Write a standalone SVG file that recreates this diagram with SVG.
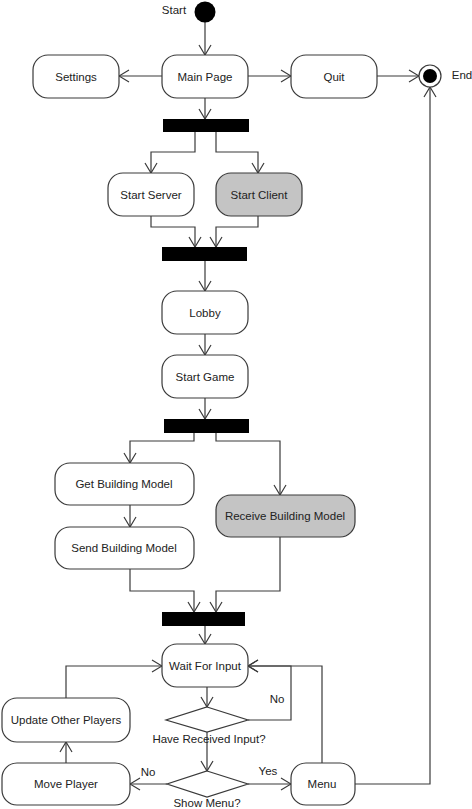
<svg xmlns="http://www.w3.org/2000/svg" width="472" height="809" viewBox="0 0 472 809">
<style>
.n{fill:#fff;stroke:#3a3a3a;stroke-width:1.2}
.g{fill:#c4c4c4;stroke:#3a3a3a;stroke-width:1.2}
.bar{fill:#000}
.t{font-family:"Liberation Sans",Arial,sans-serif;font-size:11.5px;fill:#222;text-anchor:middle;dominant-baseline:central}
.c{fill:none;stroke:#3a3a3a;stroke-width:1.2}
.a{marker-end:url(#ar)}
</style>
<defs>
<marker id="ar" markerUnits="userSpaceOnUse" markerWidth="12" markerHeight="14" refX="11" refY="7" orient="auto">
<path d="M1,1 L11,7 L1,13" fill="none" stroke="#3a3a3a" stroke-width="1.2"/>
</marker>
</defs>
<rect width="472" height="809" fill="#fff"/>
<g id="connectors">
<path class="c a" d="M205,22 V55"/>
<path class="c a" d="M162,76 H119"/>
<path class="c a" d="M248,76 H291"/>
<path class="c a" d="M377,76 H419"/>
<path class="c a" d="M205,98 V119"/>
<path class="c a" d="M195,132 V152 H151 V173"/>
<path class="c a" d="M216,132 V152 H258 V173"/>
<path class="c a" d="M151,216 V227 H195 V247"/>
<path class="c a" d="M258,216 V227 H216 V247"/>
<path class="c a" d="M205,261 V291"/>
<path class="c a" d="M205,334 V355"/>
<path class="c a" d="M205,398 V419"/>
<path class="c a" d="M194,433 V441 H130 V463"/>
<path class="c a" d="M216,433 V441 H280 V495"/>
<path class="c a" d="M130,505 V527"/>
<path class="c a" d="M130,569 V591 H194 V612"/>
<path class="c a" d="M280,537 V591 H216 V612"/>
<path class="c a" d="M205,626 V644"/>
<path class="c a" d="M207,687 V707"/>
<path class="c a" d="M248,720 H291 V666 H248"/>
<path class="c a" d="M207,732 V771"/>
<path class="c a" d="M167,784 H130"/>
<path class="c a" d="M248,784 H291"/>
<path class="c a" d="M66,763 V742"/>
<path class="c a" d="M66,698 V666 H162"/>
<path class="c a" d="M322,763 V666 H248"/>
<path class="c a" d="M355,784 H430 V87"/>
<text class="t" x="277" y="699">No</text>
<text class="t" x="148" y="772">No</text>
<text class="t" x="268" y="771">Yes</text>
</g>
<g id="start"><circle cx="205" cy="12" r="10.5" fill="#000"/><text class="t" x="174" y="10">Start</text></g>
<g id="end"><circle cx="430" cy="76" r="11" fill="#fff" stroke="#3a3a3a" stroke-width="1.2"/><circle cx="430" cy="76" r="7" fill="#000"/><text class="t" x="462" y="75">End</text></g>
<g id="settings"><rect class="n" x="33" y="55" width="86" height="43" rx="15"/><text class="t" x="76" y="77">Settings</text></g>
<g id="mainpage"><rect class="n" x="162" y="55" width="86" height="43" rx="15"/><text class="t" x="205" y="77">Main Page</text></g>
<g id="quit"><rect class="n" x="291" y="55" width="86" height="43" rx="15"/><text class="t" x="334" y="77">Quit</text></g>
<g id="fork1"><rect class="bar" x="163" y="119" width="86" height="13"/></g>
<g id="startserver"><rect class="n" x="108" y="173" width="86" height="43" rx="15"/><text class="t" x="151" y="195">Start Server</text></g>
<g id="startclient"><rect class="g" x="216" y="173" width="86" height="43" rx="15"/><text class="t" x="259" y="195">Start Client</text></g>
<g id="join1"><rect class="bar" x="162" y="247" width="85" height="14"/></g>
<g id="lobby"><rect class="n" x="162" y="291" width="86" height="43" rx="15"/><text class="t" x="205" y="313">Lobby</text></g>
<g id="startgame"><rect class="n" x="162" y="355" width="86" height="43" rx="15"/><text class="t" x="205" y="377">Start Game</text></g>
<g id="fork2"><rect class="bar" x="164" y="419" width="85" height="14"/></g>
<g id="getmodel"><rect class="n" x="55" y="463" width="139" height="42" rx="15"/><text class="t" x="124" y="484">Get Building Model</text></g>
<g id="sendmodel"><rect class="n" x="55" y="527" width="139" height="42" rx="15"/><text class="t" x="124" y="548">Send Building Model</text></g>
<g id="receivemodel"><rect class="g" x="216" y="495" width="139" height="42" rx="15"/><text class="t" x="285" y="516">Receive Building Model</text></g>
<g id="join2"><rect class="bar" x="162" y="612" width="83" height="14"/></g>
<g id="waitforinput"><rect class="n" x="162" y="644" width="86" height="43" rx="15"/><text class="t" x="205" y="666">Wait For Input</text></g>
<g id="decision1"><polygon class="n" points="207,707 248,720 207,732 166,720"/><text class="t" x="209" y="739">Have Received Input?</text></g>
<g id="decision2"><polygon class="n" points="207,771 248,784 207,797 167,784"/><text class="t" x="207" y="803">Show Menu?</text></g>
<g id="updateplayers"><rect class="n" x="2" y="698" width="128" height="44" rx="15"/><text class="t" x="66" y="720">Update Other Players</text></g>
<g id="moveplayer"><rect class="n" x="2" y="763" width="128" height="42" rx="15"/><text class="t" x="66" y="784">Move Player</text></g>
<g id="menu"><rect class="n" x="291" y="763" width="64" height="42" rx="15"/><text class="t" x="322" y="784">Menu</text></g>
</svg>
